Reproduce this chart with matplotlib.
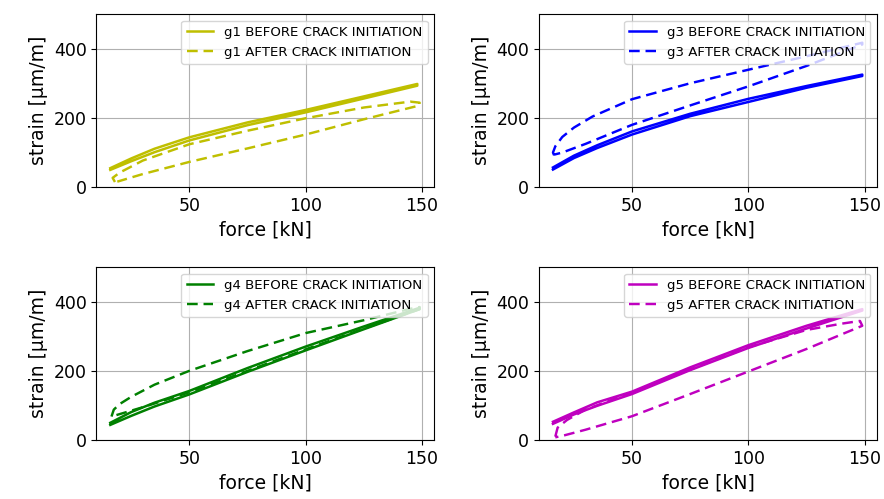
import matplotlib
matplotlib.use("Agg")
from matplotlib import pyplot as plt

# gauge names and line colours
gauges = ["g1", "g3", "g4", "g5"]
colors = ["y", "b", "g", "m"]

# before crack initiation: one load/unload cycle (force [kN], strain [um/m])
before_force = [
    [16, 25, 35, 50, 75, 100, 125, 148, 148, 125, 100, 75, 50, 35, 25, 16],
    [16, 25, 35, 50, 75, 100, 125, 149, 149, 125, 100, 75, 50, 35, 25, 16],
    [16, 25, 35, 50, 75, 100, 125, 149, 149, 125, 100, 75, 50, 35, 25, 16],
    [16, 25, 35, 50, 75, 100, 125, 149, 149, 125, 100, 75, 50, 35, 25, 16],
]
before_strain = [
    [50, 75, 101, 135, 179, 216, 256, 293, 298, 262, 223, 187, 144, 111, 83, 55],
    [51, 84, 113, 152, 205, 246, 287, 321, 325, 292, 255, 212, 161, 121, 91, 57],
    [44, 70, 97, 132, 197, 259, 320, 378, 382, 328, 270, 208, 142, 108, 81, 50],
    [47, 74, 99, 133, 202, 266, 322, 374, 378, 330, 274, 210, 140, 109, 80, 53],
]

# after crack initiation: one load/unload cycle
after_force = [
    [18, 17, 20, 30, 50, 75, 100, 125, 145, 149, 149, 125, 100, 75, 50, 30, 22, 19],
    [16.5, 16, 17, 20, 25, 33, 50, 75, 100, 125, 149, 149, 125, 100, 75, 50, 30, 20, 16.5],
    [16.5, 17.5, 20, 25, 35, 50, 75, 100, 125, 145, 149, 149, 125, 100, 75, 50, 30, 20, 16.5],
    [17, 18, 22, 30, 50, 75, 100, 125, 140, 148, 149, 125, 100, 75, 50, 30, 21, 17],
]
after_strain = [
    [15, 27, 42, 77, 124, 163, 199, 230, 247, 244, 236, 196, 152, 112, 73, 38, 22, 16],
    [92, 100, 118, 145, 172, 204, 254, 300, 339, 378, 417, 412, 350, 291, 236, 180, 125, 100, 94],
    [68, 88, 104, 125, 160, 200, 257, 309, 346, 379, 384, 378, 322, 262, 200, 138, 95, 75, 68],
    [10, 36, 58, 88, 138, 204, 268, 318, 336, 344, 330, 263, 198, 133, 69, 30, 14, 8],
]

fig, axes = plt.subplots(2, 2, figsize=(8.84, 4.99), dpi=100)
fig.subplots_adjust(left=0.109, right=0.992, top=0.972, bottom=0.118,
                    wspace=0.31, hspace=0.46)

for i, ax in enumerate(axes.flat):
    ax.plot(before_force[i], before_strain[i], color=colors[i], linestyle="-",
            linewidth=1.8, label=f"{gauges[i]} BEFORE CRACK INITIATION")
    ax.plot(after_force[i], after_strain[i], color=colors[i], linestyle="--",
            dashes=(4.4, 2.4), linewidth=1.75,
            label=f"{gauges[i]} AFTER CRACK INITIATION")
    ax.set_xlim(10, 155.3)
    ax.set_ylim(0, 500)
    ax.set_xticks([50, 100, 150])
    ax.set_yticks([0, 200, 400])
    ax.tick_params(labelsize=12.5)
    ax.grid(True)
    ax.set_xlabel("force [kN]", fontsize=13.5)
    ax.set_ylabel("strain [µm/m]", fontsize=13.5)
    ax.legend(loc="upper right", fontsize=9.6)

plt.savefig("out.png", dpi=100)
